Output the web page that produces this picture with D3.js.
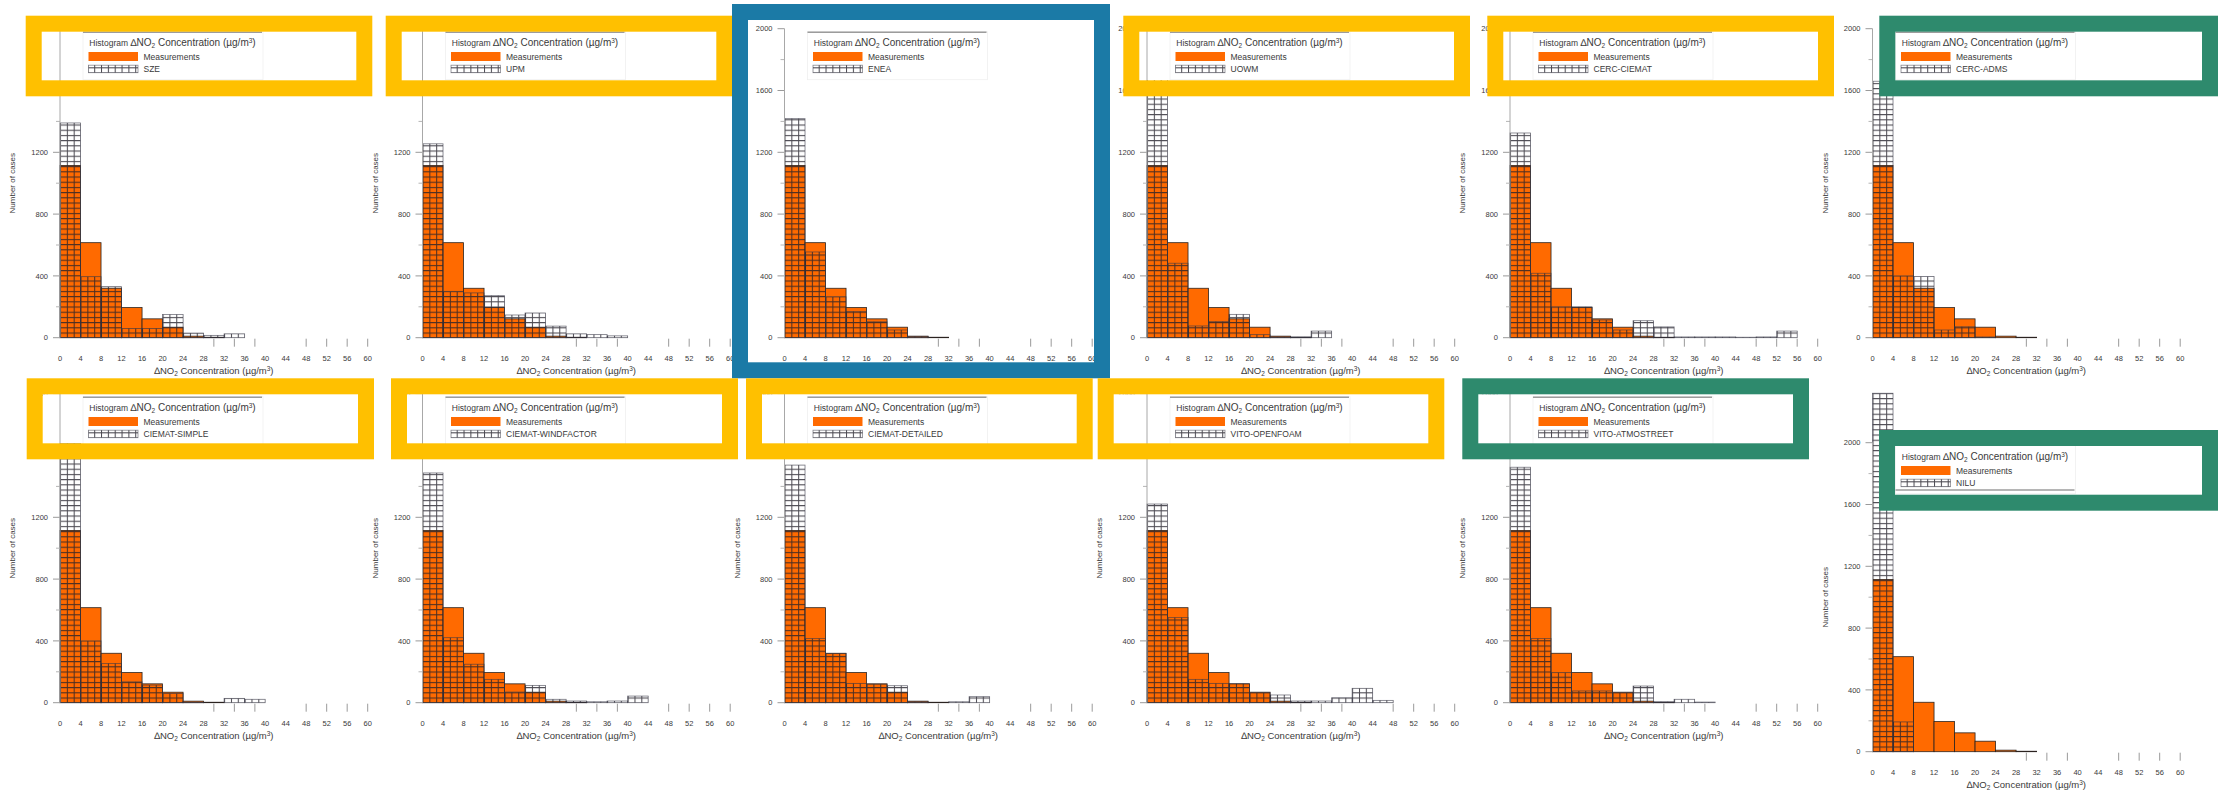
<!DOCTYPE html>
<html>
<head>
<meta charset="utf-8">
<script src="https://cdn.jsdelivr.net/npm/d3@7"></script>
<style>
  html, body { margin: 0; padding: 0; background: #ffffff; }
  svg { display: block; font-family: "Liberation Sans", Arial, Helvetica, sans-serif; }
</style>
</head>
<body>
<svg id="chart" width="2221" height="790"></svg>
<script>
// Histogram bins of the concentration difference (µg/m³), each 4 wide
const binStarts = [0, 4, 8, 12, 16, 20, 24, 28, 32, 36, 40, 44, 48, 52, 56];
const binWidth = 4;

// Axis ticks
const xTicks = [0, 4, 8, 12, 16, 20, 24, 28, 32, 36, 40, 44, 48, 52, 56, 60];
const xTickMarks = [30, 34, 38, 48, 52, 56, 60];
const yTicks = [0, 400, 800, 1200, 1600, 2000];
const yMinorTicks = [200, 600, 1000, 1400, 1800];

// Observed counts per bin (same in every panel)
const measurements = [1115, 615, 320, 195, 122, 68, 10, 3, 0, 0, 0, 0, 0, 0, 0];

// Modelled counts per bin
const sze              = [1390, 395, 330, 60, 60, 150, 30, 15, 25, 0, 0, 0, 0, 0, 0];
const upm              = [1255, 300, 290, 272, 147, 160, 75, 25, 20, 12, 0, 0, 0, 0, 0];
const enea             = [1418, 555, 265, 170, 103, 50, 8, 0, 0, 0, 0, 0, 0, 0, 0];
const uowm             = [1780, 482, 76, 104, 151, 20, 5, 5, 43, 0, 0, 0, 0, 0, 0];
const cercCiemat       = [1325, 417, 200, 200, 115, 50, 110, 70, 5, 5, 5, 3, 5, 43, 0];
const cercAdms         = [1660, 400, 396, 50, 71, 5, 0, 0, 0, 0, 0, 0, 0, 0, 0];
const ciematSimple     = [1750, 400, 254, 135, 114, 60, 3, 0, 28, 22, 0, 0, 0, 0, 0];
const ciematWindfactor = [1487, 421, 249, 151, 69, 112, 22, 11, 6, 11, 43, 0, 0, 0, 0];
const ciematDetailed   = [1538, 415, 318, 125, 120, 110, 6, 0, 6, 39, 0, 0, 0, 0, 0];
const vitoOpenfoam     = [1286, 551, 151, 125, 123, 65, 50, 11, 11, 32, 93, 15, 0, 0, 0];
const vitoAtmostreet   = [1524, 415, 195, 76, 76, 65, 108, 6, 22, 4, 0, 0, 0, 0, 0];
const nilu             = [2320, 193, 0, 0, 0, 0, 0, 0, 0, 0, 0, 0, 0, 0, 0];

const modelNames = ["SZE", "UPM", "ENEA", "UOWM", "CERC-CIEMAT", "CERC-ADMS",
  "CIEMAT-SIMPLE", "CIEMAT-WINDFACTOR", "CIEMAT-DETAILED", "VITO-OPENFOAM", "VITO-ATMOSTREET", "NILU"];
const modelSeries = [sze, upm, enea, uowm, cercCiemat, cercAdms,
  ciematSimple, ciematWindfactor, ciematDetailed, vitoOpenfoam, vitoAtmostreet, nilu];

// Highlight frame category of each panel
const frameKinds = ["legend-y", "legend-y", "panel-b", "legend-y", "legend-y", "legend-g",
  "legend-y", "legend-y", "legend-y", "legend-y", "legend-g", "legend-g"];

// ---------- layout ----------
const colX = [60, 422.5, 784.5, 1147, 1510, 1872.5];
const rowBase = [337.7, 702.7];
const lowPanelShift = 49;          // last panel sits lower (taller axis)
const plotW = 307.7;
const unitsPer400 = 61.8;

const COLORS = {
  orange: "#ff6a00",
  yellow: "#ffc000",
  blue: "#1b7aa6",
  green: "#2e8a6d",
  text: "#3a3a3a",
  axis: "#9a9a9a"
};

// Frames (outer box, absolute px) highlighting legends / panels
const frameBoxes = [
  [25.7, 15.7, 346.6, 80.6], [385.7, 15.7, 346.6, 80.6], [732, 4, 378, 374.3],
  [1123.3, 15.7, 346.7, 80.6], [1487.3, 15.7, 346.7, 80.6], [1879.3, 15.7, 338.7, 80.6],
  [26.7, 378.3, 347.3, 81], [391, 378.3, 347, 81], [746, 378.3, 346.7, 81],
  [1097.7, 378.3, 346.6, 81], [1462.3, 378.3, 346.7, 81], [1879, 430, 339, 80.7]
];
const frameStroke = 16;

const svg = d3.select("#chart");
const defs = svg.append("defs");

const x = d3.scaleLinear().domain([0, 60]).range([0, plotW]);
const y = d3.scaleLinear().domain([0, 400]).range([0, -unitsPer400]);

// grid hatch used by model bars
const cellW = (x(binWidth) - x(0)) / 3;
const cellH = 5.2;
const pat = defs.append("pattern")
  .attr("id", "gridHatch")
  .attr("patternUnits", "userSpaceOnUse")
  .attr("x", 0).attr("y", 0)
  .attr("width", cellW).attr("height", cellH);
pat.append("path")
  .attr("d", `M0,0.5H${cellW}M0.5,0V${cellH}`)
  .attr("stroke", "#24222c")
  .attr("stroke-opacity", 0.82)
  .attr("stroke-width", 1.05)
  .attr("fill", "none");

function panelOrigin(i) {
  const col = i % 6, row = Math.floor(i / 6);
  let base = rowBase[row];
  if (i === 11) base += lowPanelShift;
  return [colX[col], base];
}

const panelLayer = svg.append("g");
const interiorLayer = svg.append("g");
const overLayer = svg.append("g");
const frameLayer = svg.append("g");

modelNames.forEach((name, i) => {
  const [px, py] = panelOrigin(i);
  const g = panelLayer.append("g").attr("transform", `translate(${px},${py})`);
  const model = modelSeries[i];

  // measurement bars
  g.selectAll("rect.meas")
    .data(binStarts.map((b, k) => ({ b, v: measurements[k] })).filter(d => d.v > 0))
    .join("rect")
    .attr("class", "meas")
    .attr("x", d => x(d.b))
    .attr("width", d => x(d.b + binWidth) - x(d.b))
    .attr("y", d => y(d.v))
    .attr("height", d => -y(d.v))
    .attr("fill", COLORS.orange)
    .attr("stroke", "#2b2320")
    .attr("stroke-width", 0.8);

  // model bars (hatched grid, transparent)
  g.selectAll("rect.model")
    .data(binStarts.map((b, k) => ({ b, v: model[k] })).filter(d => d.v > 0))
    .join("rect")
    .attr("class", "model")
    .attr("x", d => x(d.b))
    .attr("width", d => x(d.b + binWidth) - x(d.b))
    .attr("y", d => y(d.v))
    .attr("height", d => -y(d.v))
    .attr("fill", "url(#gridHatch)")
    .attr("stroke", "#3b3b48")
    .attr("stroke-opacity", 0.7)
    .attr("stroke-width", 0.8);

  // x tick marks and labels
  g.selectAll("line.xt")
    .data(xTickMarks)
    .join("line")
    .attr("x1", d => x(d)).attr("x2", d => x(d))
    .attr("y1", 1).attr("y2", 9)
    .attr("stroke", COLORS.axis).attr("stroke-width", 1);

  g.selectAll("text.xl")
    .data(xTicks)
    .join("text")
    .attr("x", d => x(d))
    .attr("y", 23.3)
    .attr("text-anchor", "middle")
    .attr("font-size", 7.5)
    .attr("fill", COLORS.text)
    .text(d => d);

  const xt = g.append("text")
    .attr("x", x(30)).attr("y", 36.5)
    .attr("text-anchor", "middle")
    .attr("font-size", 9.5)
    .attr("fill", COLORS.text);
  xt.append("tspan").text("\u2206NO");
  xt.append("tspan").attr("font-size", 6.5).attr("dy", 2).text("2");
  xt.append("tspan").attr("dy", -2).text(" Concentration (\u00b5g/m");
  xt.append("tspan").attr("font-size", 6.5).attr("dy", -3.5).text("3");
  xt.append("tspan").attr("dy", 3.5).text(")");

  // y ticks and labels
  g.selectAll("line.yt")
    .data(yTicks)
    .join("line")
    .attr("x1", -7).attr("x2", 0)
    .attr("y1", d => y(d)).attr("y2", d => y(d))
    .attr("stroke", COLORS.axis).attr("stroke-width", 1);
  g.selectAll("line.ym")
    .data(yMinorTicks)
    .join("line")
    .attr("x1", -4).attr("x2", 0)
    .attr("y1", d => y(d)).attr("y2", d => y(d))
    .attr("stroke", "#b5b5b5").attr("stroke-width", 1);
  g.selectAll("text.yl")
    .data(yTicks)
    .join("text")
    .attr("x", -12)
    .attr("y", d => y(d))
    .attr("dy", "0.35em")
    .attr("text-anchor", "end")
    .attr("font-size", 7.5)
    .attr("fill", COLORS.text)
    .text(d => d);

  g.append("text")
    .attr("transform", `translate(-45,${y(1000)}) rotate(-90)`)
    .attr("text-anchor", "middle")
    .attr("font-size", 8)
    .attr("fill", COLORS.text)
    .text("Number of cases");
});

// white interiors of the legend frames
frameBoxes.forEach((bx, i) => {
  if (frameKinds[i] === "panel-b") return;
  const s = frameStroke;
  interiorLayer.append("rect")
    .attr("x", bx[0] + s).attr("y", bx[1] + s)
    .attr("width", bx[2] - 2 * s).attr("height", bx[3] - 2 * s)
    .attr("fill", "#ffffff");
});

// y axis lines and legends on top
modelNames.forEach((name, i) => {
  const [px, py] = panelOrigin(i);
  const g = overLayer.append("g").attr("transform", `translate(${px},${py})`);

  g.append("line")
    .attr("x1", 0).attr("x2", 0)
    .attr("y1", y(0)).attr("y2", y(2000))
    .attr("stroke", "#a8a8a8").attr("stroke-width", 1);

  const lg = g.append("g");
  lg.append("rect")
    .attr("x", 23).attr("y", -306)
    .attr("width", 180).attr("height", 48)
    .attr("fill", "#ffffff")
    .attr("stroke", "#efefef").attr("stroke-width", 0.8);

  const ruleY = i === 11 ? -261.7 : -305.4;
  lg.append("line")
    .attr("x1", 23).attr("x2", 202)
    .attr("y1", ruleY).attr("y2", ruleY)
    .attr("stroke", "#9c9c9c").attr("stroke-width", 1.5);

  const t = lg.append("text")
    .attr("x", 29.3).attr("y", -291.6)
    .attr("fill", COLORS.text)
    .attr("font-size", 8.5);
  t.append("tspan").text("Histogram ");
  t.append("tspan").attr("font-size", 10).text("\u2206NO");
  t.append("tspan").attr("font-size", 6.5).attr("dy", 2).text("2");
  t.append("tspan").attr("font-size", 10).attr("dy", -2).text(" Concentration (\u00b5g/m");
  t.append("tspan").attr("font-size", 6.5).attr("dy", -3.5).text("3");
  t.append("tspan").attr("font-size", 10).attr("dy", 3.5).text(")");

  lg.append("rect")
    .attr("x", 28.5).attr("y", -285.7)
    .attr("width", 49.5).attr("height", 9)
    .attr("fill", COLORS.orange);
  lg.append("text")
    .attr("x", 83.5).attr("y", -277.6)
    .attr("font-size", 8.5)
    .attr("fill", COLORS.text)
    .text("Measurements");

  lg.append("rect")
    .attr("x", 28.5).attr("y", -272.5)
    .attr("width", 49.5).attr("height", 7.5)
    .attr("fill", "url(#gridHatch)")
    .attr("stroke", "#3b3b48").attr("stroke-opacity", 0.6).attr("stroke-width", 0.8);
  lg.append("text")
    .attr("x", 83.5).attr("y", -265.6)
    .attr("font-size", 8.5)
    .attr("fill", COLORS.text)
    .text(name);
});

// highlight frames
frameBoxes.forEach((bx, i) => {
  const s = frameStroke;
  const col = frameKinds[i] === "panel-b" ? COLORS.blue
            : frameKinds[i] === "legend-g" ? COLORS.green : COLORS.yellow;
  frameLayer.append("rect")
    .attr("x", bx[0] + s / 2).attr("y", bx[1] + s / 2)
    .attr("width", bx[2] - s).attr("height", bx[3] - s)
    .attr("fill", "none")
    .attr("stroke", col)
    .attr("stroke-width", s);
});
</script>
</body>
</html>
